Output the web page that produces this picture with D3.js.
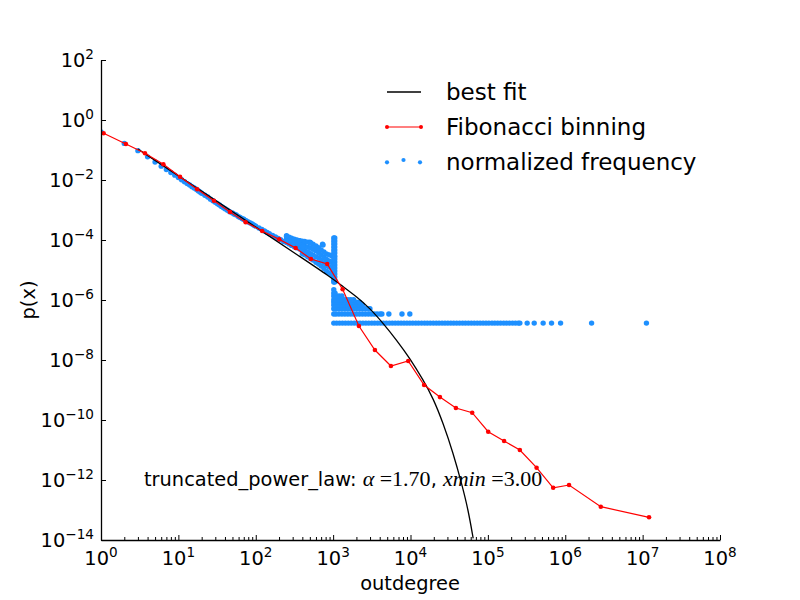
<!DOCTYPE html>
<html>
<head>
<meta charset="utf-8">
<script src="https://cdn.jsdelivr.net/npm/d3@7"></script>
<style>
  body { margin: 0; background: #fff; }
  text { font-family: "DejaVu Sans", sans-serif; fill: #000; }
</style>
</head>
<body>
<div id="chart"></div>
<script>
// Fibonacci binning (red)
const fibX = [1.08, 2.1, 3.7, 6.4, 10.5, 17.5, 28.8, 46.4, 74, 121, 201, 328, 516, 839, 1327, 2154, 3467, 5585, 9340,
    15000, 24000, 38600, 62700, 101000, 162000, 259000, 426000, 698000, 1120000, 2880000, 12100000];
const fibY = [0.36, 0.158, 0.078, 0.0334, 0.0129, 0.0049, 0.00204, 8.6e-4, 3.9e-4, 2.0e-4, 1.05e-4, 5.4e-5, 2.33e-5, 1.58e-5,
    2.27e-6, 1.36e-7, 2.15e-8, 6.3e-9, 9.3e-9, 1.47e-9, 5.8e-10, 2.5e-10, 1.75e-10, 4.07e-11, 2.0e-11, 1.0e-11,
    2.57e-12, 5.5e-13, 6.8e-13, 1.29e-13, 5.7e-14];

// best fit (black)
const fitX = [3, 19, 113, 372, 910, 1349, 2014, 2987, 4436, 6607, 9817, 14590, 19640, 26430, 35640, 45710, 55720, 64570];
const fitY = [0.108, 4.6e-3, 2.2e-4, 2.8e-5, 5.98e-6, 2.77e-6, 1.29e-6, 5.3e-7, 1.67e-7, 4.64e-8, 1.14e-8, 2.15e-9,
    5.3e-10, 7.8e-11, 7.8e-12, 7.8e-13, 1.0e-13, 1.14e-14];
const fitAlpha = "1.70", fitXmin = "3.00";

// normalized frequency (blue): main trend
const trendX = [1, 2, 3, 4, 5, 6, 7, 8, 9, 10, 11, 12, 13, 14, 15, 16, 17, 18, 19, 20, 22, 24, 26, 28, 30, 32, 34, 36, 38, 40,
    43, 46, 50, 53, 56, 60, 63, 67, 70, 75, 80, 85, 90, 95, 100, 110, 120, 130, 140, 150, 165, 180, 195, 210, 230];
const trendY = [0.40, 0.166, 0.095, 0.059, 0.040, 0.029, 0.0224, 0.0178, 0.0145, 0.012, 0.0102, 0.0087, 0.0076, 0.0068,
    0.006, 0.0054, 0.0049, 0.0044, 0.004, 0.0036, 0.0031, 0.0027, 0.0023, 0.00204, 0.0018, 0.00162, 0.00146, 0.00132,
    0.0012, 0.0011, 0.00098, 0.00087, 0.00079, 0.00072, 0.00068, 0.0006, 0.00056, 0.00051, 0.00049, 0.00044, 0.0004,
    0.00037, 0.00034, 0.00031, 0.00029, 2.5e-4, 2.24e-4, 2.0e-4, 1.78e-4, 1.62e-4, 1.41e-4, 1.26e-4, 1.12e-4, 1.02e-4, 8.9e-5];

// scattered part of the trend (several values per degree)
const spreadX = [250, 270, 290, 315, 340, 370, 400, 430, 470, 510, 550, 600, 650, 700, 760, 820, 890, 960];
const spreadY = [
    [1.32e-4, 1.05e-4, 8.3e-5], [1.23e-4, 9.5e-5, 7.4e-5], [1.15e-4, 8.7e-5, 6.6e-5], [1.07e-4, 8.1e-5, 6.0e-5],
    [1.0e-4, 7.6e-5, 5.5e-5], [9.5e-5, 7.1e-5, 5.0e-5], [9.1e-5, 6.6e-5, 4.7e-5, 3.5e-5], [8.9e-5, 6.2e-5, 4.4e-5, 3.2e-5],
    [8.5e-5, 5.8e-5, 4.0e-5, 2.75e-5], [8.1e-5, 5.4e-5, 3.5e-5, 2.4e-5], [7.2e-5, 4.9e-5, 3.2e-5, 2.14e-5],
    [6.3e-5, 4.4e-5, 2.8e-5, 1.8e-5], [5.5e-5, 3.8e-5, 2.5e-5, 1.58e-5], [4.7e-5, 3.2e-5, 2.1e-5, 1.35e-5],
    [4.0e-5, 2.6e-5, 1.7e-5, 1.12e-5], [3.4e-5, 2.24e-5, 1.41e-5, 8.9e-6], [3.2e-5, 2.0e-5, 1.26e-5, 7.9e-6],
    [3.0e-5, 1.78e-5, 1.12e-5, 7.1e-6]];
const outlierX = [250, 365, 500, 505, 730, 740, 410];
const outlierY = [1.39e-4, 9.5e-5, 8.5e-5, 8.0e-5, 7.2e-5, 6.8e-5, 6.0e-5];

// spike near outdegree 1000
const spikeX = [1020, 1050];
const spikeY = [1.17e-4, 9.3e-5, 7.4e-5, 5.8e-5, 4.6e-5, 3.7e-5, 2.9e-5, 2.33e-5, 1.85e-5, 1.47e-5, 1.17e-5, 9.3e-6,
    7.4e-6, 5.8e-6, 4.6e-6, 4.0e-6];

// low-count levels above the flat tail
const blobLevels = [3.4e-7, 5.1e-7, 6.8e-7, 8.5e-7, 1.02e-6, 1.36e-6, 1.7e-6, 2.2e-6];
const blobX = [
    [1020, 1090, 1190, 1300, 1420, 1550, 1690, 1840, 2010, 2190, 2390, 2610, 2850, 3110, 3390, 3700, 4040, 4270, 5250, 7760, 9800],
    [1020, 1090, 1190, 1300, 1420, 1550, 1690, 1840, 2010, 2190, 2390, 2610, 2850, 2990],
    [1020, 1090, 1190, 1300, 1420, 1550, 1690, 1840, 2010, 2190, 2390],
    [1020, 1090, 1190, 1300, 1420, 1550, 1690, 1840, 2010, 2190],
    [1020, 1090, 1190, 1300, 1420, 1550, 1690, 1840],
    [1020, 1090, 1190, 1300],
    [1020, 1060],
    [1020]];

// flat tail (single occurrences)
const tailLevel = 1.7e-7;
const tailX = [1020, 1110, 1210, 1320, 1440, 1570, 1710, 1870, 2040, 2230, 2430, 2650, 2890, 3160, 3440, 3760, 4100,
    4470, 4880, 5330, 5810, 6340, 6920, 7550, 8240, 8990, 9810, 10700, 11700, 12700, 13900, 15200, 16500, 18000,
    19700, 21500, 23400, 25600, 27900, 30400, 33200, 36200, 39500, 43100, 47100, 51300, 56000, 61100, 66700, 72800,
    79400, 86700, 94600, 103000, 113000, 123000, 134000, 146000, 160000, 174000, 190000, 208000, 227000, 247000,
    259000, 322000, 397000, 518000, 665000, 870000, 2190000, 11200000];

const xMajor = [1, 10, 100, 1e3, 1e4, 1e5, 1e6, 1e7, 1e8];
const xExp = [0, 1, 2, 3, 4, 5, 6, 7, 8];
const yMajor = [1e-14, 1e-12, 1e-10, 1e-8, 1e-6, 1e-4, 1e-2, 1, 1e2];
const yExp = [-14, -12, -10, -8, -6, -4, -2, 0, 2];
const legendLabels = ["best fit", "Fibonacci binning", "normalized frequency"];

const blue = "#1e90ff";

let width = 800, height = 600;
let svg = d3.select("#chart").append("svg")
    .attr("width", width)
    .attr("height", height);

let x = d3.scaleLog().domain([1, 1e8]).range([101, 720]);
let y = d3.scaleLog().domain([1e-14, 1e2]).range([540, 60]);

svg.append("clipPath").attr("id", "plotArea")
    .append("rect").attr("x", 101).attr("y", 60).attr("width", 619).attr("height", 480);

// collect blue points
let freqPoints = [];
trendX.forEach((v, i) => freqPoints.push([v, trendY[i]]));
spreadX.forEach((v, i) => spreadY[i].forEach(p => freqPoints.push([v, p])));
outlierX.forEach((v, i) => freqPoints.push([v, outlierY[i]]));
spikeX.forEach(v => spikeY.forEach(p => freqPoints.push([v, p])));
blobLevels.forEach((lv, i) => blobX[i].forEach(v => freqPoints.push([v, lv])));
tailX.forEach(v => freqPoints.push([v, tailLevel]));

let plot = svg.append("g").attr("clip-path", "url(#plotArea)");

plot.selectAll(".freq")
    .data(freqPoints)
    .enter()
    .append("circle")
    .attr("cx", d => x(d[0]))
    .attr("cy", d => y(d[1]))
    .attr("r", 2.7)
    .attr("fill", blue);

let fitLine = d3.line().x(d => x(d[0])).y(d => y(d[1])).curve(d3.curveBasis);
plot.append("path")
    .datum(fitX.map((v, i) => [v, fitY[i]]))
    .attr("d", fitLine)
    .attr("fill", "none")
    .attr("stroke", "black")
    .attr("stroke-width", 1.3);

let fibData = fibX.map((v, i) => [v, fibY[i]]);
plot.append("path")
    .datum(fibData)
    .attr("d", d3.line().x(d => x(d[0])).y(d => y(d[1])))
    .attr("fill", "none")
    .attr("stroke", "red")
    .attr("stroke-width", 1.2);
plot.selectAll(".fib")
    .data(fibData)
    .enter()
    .append("circle")
    .attr("cx", d => x(d[0]))
    .attr("cy", d => y(d[1]))
    .attr("r", 2.3)
    .attr("fill", "red");

// axes, ticks pointing inward
let xMinor = [];
for (let k = 0; k < 8; k++) for (let m = 2; m < 10; m++) xMinor.push(m * Math.pow(10, k));

svg.append("g")
    .attr("transform", "translate(0,540)")
    .call(d3.axisBottom(x).tickValues(xMinor).tickSize(-3).tickSizeOuter(0).tickFormat(""))
    .call(g => g.select(".domain").remove());

let xAxis = svg.append("g")
    .attr("transform", "translate(0,540)")
    .call(d3.axisBottom(x).tickValues(xMajor).tickSize(-5).tickSizeOuter(0).tickFormat(""));
xAxis.select(".domain").attr("stroke-width", 1.3);

let yAxis = svg.append("g")
    .attr("transform", "translate(101,0)")
    .call(d3.axisLeft(y).tickValues(yMajor).tickSize(-5).tickSizeOuter(0).tickFormat(""));
yAxis.select(".domain").attr("stroke-width", 1.3);

function expText(n) { return n < 0 ? "\u2212" + Math.abs(n) : String(n); }

xMajor.forEach((v, i) => {
    let t = svg.append("text")
        .attr("x", x(v))
        .attr("y", 565)
        .attr("text-anchor", "middle")
        .attr("font-size", "19.4px");
    t.append("tspan").text("10");
    t.append("tspan").attr("dy", -8).attr("font-size", "13.6px").text(expText(xExp[i]));
});

yMajor.forEach((v, i) => {
    let t = svg.append("text")
        .attr("x", 94)
        .attr("y", y(v) + 7)
        .attr("text-anchor", "end")
        .attr("font-size", "19.4px");
    t.append("tspan").text("10");
    t.append("tspan").attr("dy", -8).attr("font-size", "13.6px").text(expText(yExp[i]));
});

svg.append("text")
    .attr("x", 410)
    .attr("y", 590)
    .attr("text-anchor", "middle")
    .attr("font-size", "19.4px")
    .text("outdegree");

svg.append("text")
    .attr("transform", "translate(35,300) rotate(-90)")
    .attr("text-anchor", "middle")
    .attr("font-size", "19.4px")
    .text("p(x)");

// fit annotation
let note = svg.append("text")
    .attr("x", 144)
    .attr("y", 486)
    .attr("font-size", "19.4px");
note.append("tspan").text("truncated_power_law: ");
note.append("tspan").attr("font-family", "Liberation Serif").attr("font-style", "italic").attr("font-size", "22px").text("\u03b1");
note.append("tspan").attr("font-family", "Liberation Serif").attr("font-size", "22px").text(" =" + fitAlpha);
note.append("tspan").text(", ");
note.append("tspan").attr("font-family", "Liberation Serif").attr("font-style", "italic").attr("font-size", "22px").text("xmin");
note.append("tspan").attr("font-family", "Liberation Serif").attr("font-size", "22px").text(" =" + fitXmin);

// legend
let legend = svg.append("g");
legend.append("line")
    .attr("x1", 387).attr("x2", 421).attr("y1", 92).attr("y2", 92)
    .attr("stroke", "black").attr("stroke-width", 1.3);
legend.append("line")
    .attr("x1", 387).attr("x2", 421).attr("y1", 127).attr("y2", 127)
    .attr("stroke", "red").attr("stroke-width", 1.2);
[387, 421].forEach(cx => legend.append("circle").attr("cx", cx).attr("cy", 127).attr("r", 2).attr("fill", "red"));
[[387, 162.3], [403.5, 160], [420, 162.3]].forEach(p =>
    legend.append("circle").attr("cx", p[0]).attr("cy", p[1]).attr("r", 2.1).attr("fill", blue));
legendLabels.forEach((lbl, i) => {
    legend.append("text")
        .attr("x", 446)
        .attr("y", 99.5 + i * 35)
        .attr("font-size", "23px")
        .text(lbl);
});
</script>
</body>
</html>
